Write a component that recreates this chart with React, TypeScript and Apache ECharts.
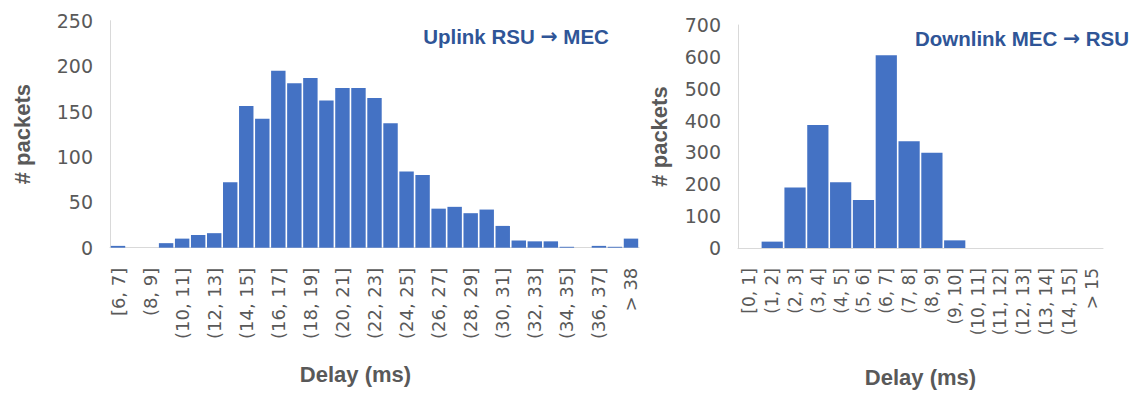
import { useEffect, useRef } from "react";
import * as echarts from "echarts";

const uplinkCategories = [
  "[6, 7]", "(7, 8]", "(8, 9]", "(9, 10]", "(10, 11]", "(11, 12]", "(12, 13]",
  "(13, 14]", "(14, 15]", "(15, 16]", "(16, 17]", "(17, 18]", "(18, 19]",
  "(19, 20]", "(20, 21]", "(21, 22]", "(22, 23]", "(23, 24]", "(24, 25]",
  "(25, 26]", "(26, 27]", "(27, 28]", "(28, 29]", "(29, 30]", "(30, 31]",
  "(31, 32]", "(32, 33]", "(33, 34]", "(34, 35]", "(35, 36]", "(36, 37]",
  "(37, 38]", "> 38",
];
const uplinkCounts = [
  2, 0, 0, 5, 10, 14, 16, 72, 156, 142, 195, 181, 187, 162, 176, 176, 165,
  137, 84, 80, 43, 45, 38, 42, 24, 8, 7, 7, 1, 0, 2, 1, 10,
];

const downlinkCategories = [
  "[0, 1]", "(1, 2]", "(2, 3]", "(3, 4]", "(4, 5]", "(5, 6]", "(6, 7]",
  "(7, 8]", "(8, 9]", "(9, 10]", "(10, 11]", "(11, 12]", "(12, 13]",
  "(13, 14]", "(14, 15]", "> 15",
];
const downlinkCounts = [0, 20, 190, 386, 206, 151, 605, 335, 299, 24, 0, 0, 0, 0, 0, 0];

const uplinkTitle = ["Uplink RSU ", "\u2192", " MEC"];
const downlinkTitle = ["Downlink MEC ", "\u2192", " RSU"];
const yAxisTitle = "# packets";
const xAxisTitle = "Delay (ms)";

const GREY = "#595959";
const AXIS = "#d9d9d9";
const BAR = "#4472C4";
const TITLE = "#2F5597";

export default function App() {
  const ref = useRef<HTMLDivElement>(null);
  useEffect(() => {
    document.body.style.margin = "0";
    const chart = echarts.init(ref.current!, undefined, { renderer: "svg" });
    const xLabel = (size: number, interval: number) => ({
      rotate: 90,
      interval,
      margin: 20,
      fontSize: size,
      fontFamily: "DejaVu Sans",
      color: GREY,
    });
    const xName = (pad: number[]) => ({
      fontFamily: "Liberation Sans",
      fontWeight: "bold",
      fontSize: 22,
      color: GREY,
      padding: pad,
    });
    const yLabel = {
      fontSize: 19,
      fontFamily: "DejaVu Sans",
      color: GREY,
      margin: 17,
    };
    const yName = {
      fontFamily: "Liberation Sans",
      fontWeight: "bold",
      fontSize: 22,
      color: GREY,
    };
    const titleText = (parts: string[], x: number, y: number) => ({
      type: "text",
      x,
      y,
      style: {
        text: `{t|${parts[0]}}{a|${parts[1]}}{t|${parts[2]}}`,
        textAlign: "center",
        textVerticalAlign: "middle",
        rich: {
          t: {
            fontFamily: "Liberation Sans",
            fontWeight: "bold",
            fontSize: 20.5,
            fill: TITLE,
            color: TITLE,
          },
          a: {
            fontFamily: "DejaVu Sans",
            fontWeight: "bold",
            fontSize: 20.5,
            fill: TITLE,
            color: TITLE,
          },
        },
      },
    });
    chart.setOption({
      animation: false,
      backgroundColor: "#ffffff",
      grid: [
        { left: 110, top: 20.7, width: 529, height: 227 },
        { left: 738, top: 25, width: 365, height: 224.3 },
      ],
      xAxis: [
        {
          type: "category",
          gridIndex: 0,
          data: uplinkCategories,
          axisLine: { lineStyle: { color: AXIS, width: 1 } },
          axisTick: { show: false },
          axisLabel: xLabel(18, 1),
          name: xAxisTitle,
          nameLocation: "middle",
          nameGap: 116,
          nameTextStyle: xName([0, 38, 0, 0]),
        },
        {
          type: "category",
          gridIndex: 1,
          data: downlinkCategories,
          axisLine: { lineStyle: { color: AXIS, width: 1 } },
          axisTick: { show: false },
          axisLabel: xLabel(17, 0),
          name: xAxisTitle,
          nameLocation: "middle",
          nameGap: 118,
          nameTextStyle: xName([0, 0, 0, 0]),
        },
      ],
      yAxis: [
        {
          type: "value",
          gridIndex: 0,
          min: 0,
          max: 250,
          interval: 50,
          axisLine: { show: true, lineStyle: { color: AXIS, width: 1 } },
          axisTick: { show: false },
          splitLine: { show: false },
          axisLabel: yLabel,
          name: yAxisTitle,
          nameLocation: "middle",
          nameGap: 77,
          nameTextStyle: yName,
        },
        {
          type: "value",
          gridIndex: 1,
          min: 0,
          max: 700,
          interval: 100,
          axisLine: { show: true, lineStyle: { color: AXIS, width: 1 } },
          axisTick: { show: false },
          splitLine: { show: false },
          axisLabel: yLabel,
          name: yAxisTitle,
          nameLocation: "middle",
          nameGap: 68,
          nameTextStyle: yName,
        },
      ],
      series: [
        {
          type: "bar",
          xAxisIndex: 0,
          yAxisIndex: 0,
          data: uplinkCounts,
          barCategoryGap: "10%",
          itemStyle: { color: BAR },
        },
        {
          type: "bar",
          xAxisIndex: 1,
          yAxisIndex: 1,
          data: downlinkCounts,
          barCategoryGap: "7%",
          itemStyle: { color: BAR },
        },
      ],
      graphic: [
        titleText(uplinkTitle, 516, 36),
        titleText(downlinkTitle, 1022, 38),
      ],
    });
    return () => chart.dispose();
  }, []);
  return <div ref={ref} style={{ width: 1138, height: 393 }} />;
}
